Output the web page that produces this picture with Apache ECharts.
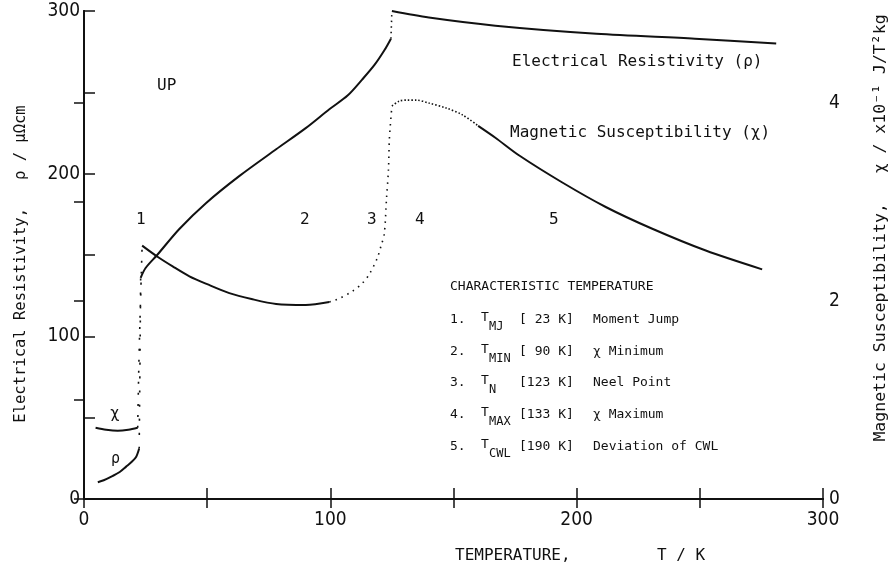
<!DOCTYPE html>
<html>
<head>
<meta charset="utf-8">
<script src="https://cdn.jsdelivr.net/npm/echarts@6/dist/echarts.min.js"></script>
<style>
  html, body { margin: 0; padding: 0; background: #fff; }
  #main { width: 891px; height: 571px; }
</style>
</head>
<body>
<div id="main"></div>
<script>
// resistivity rho (uOhm cm) vs T (K), left axis
var rhoLow   = [[5.6, 10.3], [8, 11.5], [11.7, 14.2], [14.5, 16.6], [17.1, 19.9], [19.5, 23], [21.2, 26], [22.4, 31]];
var rhoJump1 = [[22.4, 31], [22.7, 80], [23, 136]];
var rhoMid   = [[23, 136], [25, 142], [29.7, 150], [38.7, 166], [49.6, 182], [63, 198.5], [78, 215], [90, 228],
                [99.6, 239.6], [107, 248], [113, 258], [118, 267], [122, 276], [124.6, 283]];
var rhoJump2 = [[124.6, 283], [125, 300]];
var rhoHigh  = [[125, 300], [140, 296], [167, 291], [208, 286], [248, 283], [281, 280]];

// susceptibility chi (x10^-1 J/T^2kg) vs T (K), right axis
var chiLow   = [[4.7, 0.72], [9, 0.70], [13.7, 0.69], [18, 0.70], [21.8, 0.72]];
var chiJump  = [[21.8, 0.72], [22.4, 1.5], [23.6, 2.56]];
var chiMid   = [[23.6, 2.56], [29.7, 2.45], [36, 2.35], [42.8, 2.25], [50, 2.17], [59, 2.08], [68, 2.02],
                [78, 1.97], [90, 1.96], [99.6, 1.99]];
var chiRise  = [[99.6, 1.99], [104, 2.03], [109, 2.10], [113, 2.18], [115.8, 2.27], [119, 2.43], [120.5, 2.55],
                [121.9, 2.68], [122.8, 3.03], [123.6, 3.33], [124, 3.65], [125, 3.97]];
var chiPeak  = [[125, 3.97], [128, 4.02], [131, 4.03], [135, 4.03], [140, 4.0], [147, 3.95], [153.7, 3.88], [160, 3.77]];
var chiHigh  = [[160, 3.77], [167, 3.65], [176.7, 3.47], [194, 3.20], [211.8, 2.95], [230.7, 2.73], [252.4, 2.51], [275.3, 2.32]];

// characteristic temperatures table
var charNums  = ['1.', '2.', '3.', '4.', '5.'];
var charSubs  = ['MJ', 'MIN', 'N', 'MAX', 'CWL'];
var charTemps = ['[ 23 K]', '[ 90 K]', '[123 K]', '[133 K]', '[190 K]'];
var charDescs = ['Moment Jump', 'χ Minimum', 'Neel Point', 'χ Maximum', 'Deviation of CWL'];

var MONO = 'DejaVu Sans Mono';
var NUM = '"DejaVu Sans Condensed", "DejaVu Sans Mono"';
var INK = '#111';

function txt(s, x, y, size, extra) {
    var el = {
        type: 'text', x: x, y: y, z: 10,
        style: {
            text: s, fill: INK,
            font: size + 'px ' + MONO,
            textAlign: 'left', textVerticalAlign: 'middle'
        }
    };
    if (extra) {
        for (var k in extra) el[k] = extra[k];
    }
    return el;
}

function curve(data, axis, dash) {
    return {
        type: 'line', data: data, yAxisIndex: axis,
        showSymbol: false, smooth: 0.3, silent: true,
        lineStyle: { color: INK, width: dash ? 1.6 : 2, type: dash || 'solid' }
    };
}

var graphics = [
    txt('UP', 157, 86, 16),
    txt('1', 136, 220, 16), txt('2', 300, 220, 16), txt('3', 367, 220, 16),
    txt('4', 415, 220, 16), txt('5', 549, 220, 16),
    txt('χ', 110, 414, 16), txt('ρ', 111, 459, 15),
    txt('Electrical Resistivity (ρ)', 512, 62, 16),
    txt('Magnetic Susceptibility (χ)', 510, 133, 16),
    txt('CHARACTERISTIC TEMPERATURE', 450, 287, 13),
    txt('TEMPERATURE,', 455, 556, 16),
    txt('T / K', 657, 556, 16)
];
var rowY = [320, 352, 383, 415, 447];
for (var i = 0; i < charNums.length; i++) {
    graphics.push(txt(charNums[i], 450, rowY[i], 13));
    graphics.push(txt('T', 481, rowY[i] - 2, 13));
    graphics.push(txt(charSubs[i], 489, rowY[i] + 7, 12));
    graphics.push(txt(charTemps[i], 519, rowY[i], 13));
    graphics.push(txt(charDescs[i], 593, rowY[i], 13));
}
// axis titles, rotated
graphics.push(txt('Electrical Resistivity,   ρ / μΩcm', 21, 264, 15.5, { rotation: Math.PI / 2 }));
graphics[graphics.length - 1].style.textAlign = 'center';
graphics.push(txt('Magnetic Susceptibility,   χ / x10⁻¹ J/T²kg', 881, 228, 16.5, { rotation: Math.PI / 2 }));
graphics[graphics.length - 1].style.textAlign = 'center';

var axisLine = { lineStyle: { color: INK, width: 2 } };

var option = {
    backgroundColor: '#fff',
    animation: false,
    grid: { left: 84, right: 68, top: 11, bottom: 72 },
    xAxis: [{
        type: 'value', min: 0, max: 300, interval: 50,
        axisLine: axisLine,
        axisTick: { inside: true, length: 11, lineStyle: { color: INK, width: 1.5 } },
        axisLabel: {
            margin: 12, color: INK, fontSize: 19, fontFamily: NUM,
            formatter: function (v) { return v % 100 === 0 ? String(v) : ''; }
        },
        splitLine: { show: false }
    }, {
        type: 'value', position: 'top', min: 0, max: 300, interval: 50,
        axisLine: axisLine,
        axisTick: { inside: true, length: 9, lineStyle: { color: INK, width: 1.5 } },
        axisLabel: { show: false },
        splitLine: { show: false }
    }],
    yAxis: [{
        type: 'value', min: 0, max: 300, interval: 50,
        axisLine: axisLine,
        axisTick: { inside: true, length: 11, lineStyle: { color: INK, width: 1.5 } },
        axisLabel: {
            margin: 4, color: INK, fontSize: 19, fontFamily: NUM,
            formatter: function (v) { return v % 100 === 0 ? String(v) : ''; }
        },
        splitLine: { show: false }
    }, {
        type: 'value', position: 'right', min: 0, max: 4.93,
        axisLine: axisLine,
        axisTick: { inside: true, length: 10, customValues: [0, 1, 2, 3, 4], lineStyle: { color: INK, width: 1.5 } },
        axisLabel: { margin: 6, color: INK, fontSize: 19, fontFamily: NUM, customValues: [0, 2, 4] },
        splitLine: { show: false }
    }],
    series: [
        curve(rhoLow, 0),
        curve(rhoJump1, 0, [2, 12]),
        curve(rhoMid, 0),
        curve(rhoJump2, 0, [1.5, 4]),
        curve(rhoHigh, 0),
        curve(chiLow, 1),
        curve(chiJump, 1, [2, 9]),
        curve(chiMid, 1),
        curve(chiRise, 1, [1.5, 5]),
        curve(chiPeak, 1, [1.5, 2]),
        curve(chiHigh, 1)
    ],
    graphic: graphics
};

var chart = echarts.init(document.getElementById('main'));
chart.setOption(option);
</script>
</body>
</html>
